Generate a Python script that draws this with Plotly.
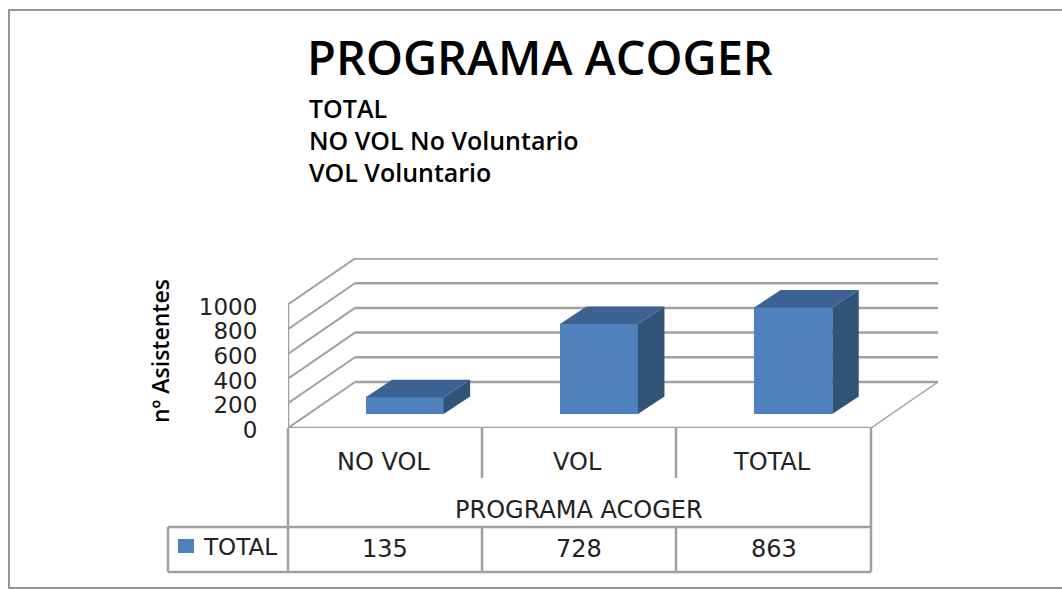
import plotly.graph_objects as go

# ---- data ----
CATEGORIES = ["NO VOL", "VOL", "TOTAL"]
VALUES = [135, 728, 863]
SERIES_NAME = "TOTAL"
GROUP_LABEL = "PROGRAMA ACOGER"
Y_TICKS = [0, 200, 400, 600, 800, 1000]
TITLE = "PROGRAMA ACOGER"
SUBTITLES = ["TOTAL", "NO VOL No Voluntario", "VOL Voluntario"]
Y_TITLE = "nº Asistentes"

# ---- style / layout ----
W, H = 1062, 589
LEFT, RIGHT, TOP, BOTTOM = 288, 938, 258, 428
CAT_W = 194.3
PX_PER_VAL = 0.1235
FRONT_R = 871
GRID = "#a0a0a0"
FRONT, SIDE, CAP = "#4f81bd", "#335479", "#3b6291"
TICK_FONT = dict(family="DejaVu Sans", size=24, color="#222222")
AXIS_FONT = dict(family="DejaVu Sans", size=23, color="#222222")
TEXT_FONT = dict(family="Open Sans", size=25, color="#000000", weight=600)


def fx(p):
    return p / W


def fy(p):
    return 1 - p / H


# depth in axis units: px offset converted with the axis scales
def dx_of(px):
    return px / CAT_W


def dy_of(px):
    return px / PX_PER_VAL


WALL_DX, WALL_DY = dx_of(67), dy_of(46)
BAR_OFF_X, BAR_OFF_Y = dx_of(19.5), dy_of(14)
BAR_D_X, BAR_D_Y = dx_of(26.5), dy_of(17.5)
BAR_W = 78 / CAT_W
N = len(CATEGORIES)
positions = [i + 0.5 + BAR_OFF_X for i in range(N)]

fig = go.Figure()

# front faces
fig.add_trace(go.Bar(x=positions, y=VALUES, base=BAR_OFF_Y, width=BAR_W, name=SERIES_NAME,
                     marker=dict(color=FRONT, line=dict(width=0)), showlegend=False,
                     hovertext=CATEGORIES, hoverinfo="text+y"))

# side and top faces, derived from the same values
for p, v in zip(positions, VALUES):
    xl, xr = p - BAR_W / 2, p + BAR_W / 2
    y0, y1 = BAR_OFF_Y, BAR_OFF_Y + v
    fig.add_trace(go.Scatter(x=[xr, xr + BAR_D_X, xr + BAR_D_X, xr, xr],
                             y=[y0, y0 + BAR_D_Y, y1 + BAR_D_Y, y1, y0],
                             mode="lines", fill="toself", fillcolor=SIDE,
                             line=dict(width=0), showlegend=False, hoverinfo="skip"))
    fig.add_trace(go.Scatter(x=[xl, xr, xr + BAR_D_X, xl + BAR_D_X, xl],
                             y=[y1, y1, y1 + BAR_D_Y, y1 + BAR_D_Y, y1],
                             mode="lines", fill="toself", fillcolor=CAP,
                             line=dict(width=0), showlegend=False, hoverinfo="skip"))

shapes = []
x_end = (RIGHT - LEFT) / CAT_W


def data_line(x0, y0, x1, y1, w=2.5):
    shapes.append(dict(type="line", xref="x", yref="y", x0=x0, y0=y0, x1=x1, y1=y1,
                       line=dict(color=GRID, width=w), layer="below"))


def page_line(x0, y0, x1, y1, w=2.5):
    shapes.append(dict(type="line", xref="paper", yref="paper", x0=fx(x0), y0=fy(y0),
                       x1=fx(x1), y1=fy(y1), line=dict(color=GRID, width=w), layer="below"))


# walls and gridlines
for t in Y_TICKS:
    data_line(0, t, WALL_DX, t + WALL_DY, 2)
    data_line(WALL_DX, t + WALL_DY, x_end, t + WALL_DY)
data_line(0, 0, 0, Y_TICKS[-1])
data_line(0, 0, N, 0)
data_line(N, 0, N + WALL_DX, WALL_DY, 1.5)

# data table
for x in [LEFT, FRONT_R]:
    page_line(x, BOTTOM, x, 572)
for x in [482, 676]:
    page_line(x, BOTTOM, x, 478)
    page_line(x, 527, x, 572)
page_line(168, 527, FRONT_R, 527)
page_line(168, 572, FRONT_R, 572)
page_line(168, 527, 168, 572)

# outer frame
shapes.append(dict(type="rect", xref="paper", yref="paper", x0=fx(9), y0=fy(588),
                   x1=fx(1070), y1=fy(10), line=dict(color="#969696", width=2), layer="below"))
# legend key
shapes.append(dict(type="rect", xref="paper", yref="paper", x0=fx(178), y0=fy(553),
                   x1=fx(194), y1=fy(539), fillcolor=FRONT, line=dict(width=0)))

annotations = []


def label(text, x, y, font, anchor="center", angle=0):
    annotations.append(dict(text=text, xref="paper", yref="paper", x=fx(x), y=fy(y),
                            xanchor=anchor, yanchor="middle", showarrow=False,
                            font=font, textangle=angle))


for text, y in zip(SUBTITLES, [108, 140, 172]):
    label(text, 307, y, TEXT_FONT, "left")
label(Y_TITLE, 160, 351, dict(TEXT_FONT, size=23), angle=-90)
for i, c in enumerate(CATEGORIES):
    cx = LEFT + (i + 0.5) * CAT_W
    label(c, cx - 1.5, 462, TICK_FONT)
    label(str(VALUES[i]), cx, 549, TICK_FONT)
label(GROUP_LABEL, LEFT + N / 2 * CAT_W, 510, TICK_FONT)
label(SERIES_NAME, 201, 547, dict(TICK_FONT, size=23), "left")

fig.update_layout(
    width=W, height=H, margin=dict(l=0, r=0, t=0, b=0, autoexpand=False),
    paper_bgcolor="white", plot_bgcolor="white", showlegend=False,
    title=dict(text=TITLE, x=fx(307), xanchor="left", y=fy(59), yanchor="middle",
               font=dict(family="Open Sans", size=47, color="#000000", weight=600)),
    xaxis=dict(domain=[fx(LEFT), fx(RIGHT)], range=[0, x_end], showgrid=False, zeroline=False,
               showticklabels=False, ticks="", showline=False, automargin=False),
    yaxis=dict(domain=[fy(BOTTOM), fy(TOP)], range=[0, (BOTTOM - TOP) / PX_PER_VAL],
               tickvals=Y_TICKS, showgrid=False, zeroline=False, showline=False, automargin=False,
               ticks="outside", ticklen=25, tickcolor="rgba(0,0,0,0)", tickfont=AXIS_FONT,
               ticklabelshift=2),
    shapes=shapes, annotations=annotations, bargap=0,
)

fig.write_html("out.html", config=dict(displayModeBar=False),
               post_script="document.body.style.margin='0';document.body.style.overflow='hidden';")
